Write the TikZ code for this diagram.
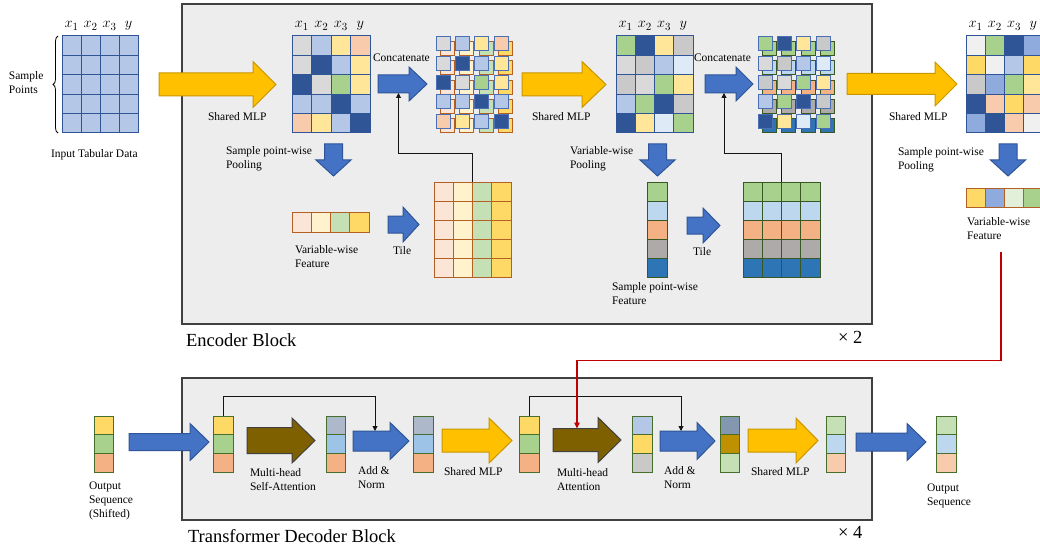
\documentclass[tikz,border=0pt]{standalone}
\usepackage{fontspec}
\setmainfont{Liberation Serif}
\usepackage{xcolor}
\usepackage{tikz}
\usetikzlibrary{arrows.meta,decorations.pathreplacing}

\newcommand{\cellgrid}[9]{%
  \node[inner sep=0pt,outer sep=0pt,minimum width=#4,minimum height=#5,anchor=north west] (#1) at (#2,#3) {};
  \foreach \rowcols [count=\i from 0] in {#9}{%
    \foreach \cellcol [count=\j from 0] in \rowcols{%
      \path[fill=\cellcol,draw=#8,line width=1pt] ({#2+\j*#4/#6},{#3+\i*#5/#7}) rectangle ++({#4/#6},{#5/#7});
    }%
  }%
}
\newcommand{\sqgrid}[6]{%
  \foreach \rowcols [count=\i from 0] in {#6}{%
    \foreach \cellcol [count=\j from 0] in \rowcols{%
      \path[fill=\cellcol,draw=#5,line width=1pt] ({#1+\j*#3},{#2+\i*#4}) rectangle ++(14,14);
    }%
  }%
}
\newcommand{\fatright}[8]{%
  \path[#8] (#2,{#4-#5}) -- ({#3-#7},{#4-#5}) -- ({#3-#7},{#4-#6}) -- (#3,#4) -- ({#3-#7},{#4+#6}) -- ({#3-#7},{#4+#5}) -- (#2,{#4+#5}) -- cycle;
  \node[inner sep=0pt,outer sep=0pt,minimum width={#3-#2},minimum height={2*#5}] (#1) at ({(#2+#3)/2},#4) {};
}
\newcommand{\fatdown}[7]{%
  \path[#7] ({#1-#4},#2) -- ({#1+#4},#2) -- ({#1+#4},{#3-#6}) -- ({#1+#5},{#3-#6}) -- (#1,#3) -- ({#1-#5},{#3-#6}) -- ({#1-#4},{#3-#6}) -- cycle;
}
\newcommand{\varnames}[3]{%
  \foreach \v [count=\k from 0] in {x_1,x_2,x_3,y}{%
    \node[varlbl] (#1\k) at ({#2+(\k+0.5)*#3},28) {$\v$};
  }%
}

\begin{document}
\begin{tikzpicture}[x=1pt,y=-1pt,
  lbl/.style={anchor=north west,inner sep=0pt,outer sep=0pt,align=left,font=\fontsize{11.5}{14}\selectfont},
  blocklbl/.style={anchor=base west,inner sep=0pt,outer sep=0pt,font=\fontsize{18.5}{22}\selectfont},
  varlbl/.style={anchor=base,inner sep=0pt,outer sep=0pt,font=\fontsize{15.5}{17}\selectfont},
  blockbox/.style={fill=boxFill,draw=boxEdge,line width=1.3pt,inner sep=0pt,outer sep=0pt,anchor=north west},
  mlp/.style={fill=arrYellow,draw=arrYellowEdge,line width=1pt,line join=miter},
  bluearr/.style={fill=arrBlue,draw=cNavy,line width=1pt,line join=miter},
  attn/.style={fill=arrBrown,draw=arrBrownEdge,line width=1pt,line join=miter},
  link/.style={draw=linkBlack,line width=0.9pt,-{Triangle[length=5pt,width=5pt]}},
  redlink/.style={draw=redLine,line width=1.6pt,-{Triangle[length=6pt,width=5.5pt]}}]
\definecolor{boxFill}{RGB}{237,237,237}
\definecolor{boxEdge}{RGB}{64,64,64}
\definecolor{cBlue}{RGB}{180,199,231}
\definecolor{cNavy}{RGB}{47,85,151}
\definecolor{cGrayL}{RGB}{217,217,217}
\definecolor{cGrayM}{RGB}{201,201,201}
\definecolor{cGrayV}{RGB}{240,240,240}
\definecolor{cYelL}{RGB}{255,230,153}
\definecolor{cYel}{RGB}{255,217,102}
\definecolor{cPeach}{RGB}{248,203,173}
\definecolor{cLeaf}{RGB}{169,209,142}
\definecolor{cBluePale}{RGB}{222,235,247}
\definecolor{cBlueMed}{RGB}{143,170,220}
\definecolor{cPeachL}{RGB}{251,229,214}
\definecolor{cCream}{RGB}{255,242,204}
\definecolor{cLeafL}{RGB}{197,224,180}
\definecolor{cLeafP}{RGB}{226,240,217}
\definecolor{cSky}{RGB}{189,215,238}
\definecolor{cOrange}{RGB}{244,177,131}
\definecolor{cGrayW}{RGB}{174,170,170}
\definecolor{cSteel}{RGB}{46,117,182}
\definecolor{cGrayBl}{RGB}{173,185,202}
\definecolor{cBlueL}{RGB}{157,195,230}
\definecolor{cSlate}{RGB}{132,151,176}
\definecolor{cGold}{RGB}{191,144,0}
\definecolor{brownEdge}{RGB}{180,95,35}
\definecolor{greenEdge}{RGB}{56,87,35}
\definecolor{vecEdge}{RGB}{70,110,45}
\definecolor{frontEdge}{RGB}{74,111,181}
\definecolor{arrYellow}{RGB}{255,192,0}
\definecolor{arrYellowEdge}{RGB}{200,150,0}
\definecolor{arrBlue}{RGB}{68,114,196}
\definecolor{arrBrown}{RGB}{127,96,0}
\definecolor{arrBrownEdge}{RGB}{64,64,64}
\definecolor{linkBlack}{RGB}{20,20,20}
\definecolor{redLine}{RGB}{192,0,0}
\path[use as bounding box] (0,0) rectangle (1040,548);
\clip (0,0) rectangle (1040,548);

\node[blockbox,minimum width=690,minimum height=320] (enc) at (182,4) {};
\node[blockbox,minimum width=690,minimum height=142] (dec) at (182,378) {};
\node[blocklbl] (encLbl) at (186,346) {Encoder Block};
\node[blocklbl] (encRep) at (838,343) {× 2};
\node[blocklbl] (decLbl) at (188,542) {Transformer Decoder Block};
\node[blocklbl] (decRep) at (838,538) {× 4};

\cellgrid{inTab}{62}{36}{76}{97}{4}{5}{cNavy}{{cBlue,cBlue,cBlue,cBlue},{cBlue,cBlue,cBlue,cBlue},{cBlue,cBlue,cBlue,cBlue},{cBlue,cBlue,cBlue,cBlue},{cBlue,cBlue,cBlue,cBlue}}
\varnames{inV}{62}{19}
\draw[decorate,decoration={brace,amplitude=5pt},line width=0.8pt] (58,133) -- (58,36);
\node[lbl] (spLbl) at (9,72) {Sample\\Points};
\node[lbl] (inLbl) at (51,150) {Input Tabular Data};

\fatright{mlpA}{159}{276}{84.5}{11.5}{23}{23}{mlp}
\node[lbl] (mlpALbl) at (208,113) {Shared MLP};
\cellgrid{hA}{292}{36}{78}{97}{4}{5}{cNavy}{{cGrayL,cBlue,cYelL,cPeach},{cGrayL,cNavy,cBlue,cYelL},{cNavy,cGrayL,cLeaf,cYelL},{cBlue,cBlue,cNavy,cBlue},{cPeach,cYelL,cBlue,cNavy}}
\varnames{hAV}{292}{19.5}
\fatdown{333.5}{144}{176}{9}{17.5}{16}{bluearr}
\node[lbl] (poolALbl) at (226,147) {Sample point-wise\\Pooling};
\cellgrid{vfA}{292}{212}{77}{20}{4}{1}{brownEdge}{{cPeachL,cCream,cLeafL,cYel}}
\node[lbl] (vfALbl) at (295,246) {Variable-wise\\Feature};
\fatright{tileArrA}{388}{419}{224.5}{8.5}{17.5}{16}{bluearr}
\node[lbl] (tileALbl) at (393,247) {Tile};
\cellgrid{tileA}{434}{182}{77}{95}{4}{5}{brownEdge}{{cPeachL,cCream,cLeafL,cYel},{cPeachL,cCream,cLeafL,cYel},{cPeachL,cCream,cLeafL,cYel},{cPeachL,cCream,cLeafL,cYel},{cPeachL,cCream,cLeafL,cYel}}
\fatright{catArrA}{378}{427}{84}{9}{17}{18}{bluearr}
\node[lbl] (catALbl) at (373,54) {Concatenate};
\sqgrid{440.5}{41.5}{19.4}{19.3}{brownEdge}{{cPeachL,cCream,cLeafL,cYel},{cPeachL,cCream,cLeafL,cYel},{cPeachL,cCream,cLeafL,cYel},{cPeachL,cCream,cLeafL,cYel},{cPeachL,cCream,cLeafL,cYel}}
\sqgrid{436}{37}{19.4}{19.3}{frontEdge}{{cGrayL,cBlue,cYelL,cPeach},{cGrayL,cNavy,cBlue,cYelL},{cNavy,cGrayL,cLeaf,cYelL},{cBlue,cBlue,cNavy,cBlue},{cPeach,cYelL,cBlue,cNavy}}
\draw[link] (tileA.north) -- ++(0,-29) -| ([xshift=-4pt]catArrA.south);

\fatright{mlpB}{522}{606}{84.5}{11.5}{23}{24}{mlp}
\node[lbl] (mlpBLbl) at (532,113) {Shared MLP};
\cellgrid{hB}{616}{36}{77}{97}{4}{5}{cNavy}{{cLeaf,cNavy,cYelL,cGrayM},{cGrayL,cGrayM,cBlue,cBluePale},{cGrayM,cGrayL,cLeaf,cYelL},{cBlue,cLeaf,cNavy,cGrayM},{cNavy,cYelL,cBluePale,cLeaf}}
\varnames{hBV}{616}{19.25}
\fatdown{657.5}{144}{176}{9}{17.5}{16}{bluearr}
\node[lbl] (poolBLbl) at (570,147) {Variable-wise\\Pooling};
\cellgrid{spf}{647}{182}{20}{95}{1}{5}{greenEdge}{{cLeaf},{cSky},{cOrange},{cGrayW},{cSteel}}
\node[lbl] (spfLbl) at (612,283) {Sample point-wise\\Feature};
\fatright{tileArrB}{687}{720}{225.5}{8.5}{17.5}{17}{bluearr}
\node[lbl] (tileBLbl) at (693,248) {Tile};
\cellgrid{tileB}{743}{182}{77}{95}{4}{5}{greenEdge}{{cLeaf,cLeaf,cLeaf,cLeaf},{cSky,cSky,cSky,cSky},{cOrange,cOrange,cOrange,cOrange},{cGrayW,cGrayW,cGrayW,cGrayW},{cSteel,cSteel,cSteel,cSteel}}
\fatright{catArrB}{705}{753}{84}{9}{17}{17}{bluearr}
\node[lbl] (catBLbl) at (694,54) {Concatenate};
\sqgrid{762.5}{41.5}{19.4}{19.3}{greenEdge}{{cLeaf,cLeaf,cLeaf,cLeaf},{cSky,cSky,cSky,cSky},{cOrange,cOrange,cOrange,cOrange},{cGrayW,cGrayW,cGrayW,cGrayW},{cSteel,cSteel,cSteel,cSteel}}
\sqgrid{758}{37}{19.4}{19.3}{frontEdge}{{cLeaf,cNavy,cYelL,cGrayM},{cGrayL,cGrayM,cBlue,cBluePale},{cGrayM,cGrayL,cLeaf,cYelL},{cBlue,cLeaf,cNavy,cGrayM},{cNavy,cYelL,cBluePale,cLeaf}}
\draw[link] (tileB.north) -- ++(0,-29) -| ([xshift=-5pt]catArrB.south);

\fatright{mlpC}{847}{957}{84}{10.5}{22}{22}{mlp}
\node[lbl] (mlpCLbl) at (889,113) {Shared MLP};
\cellgrid{hC}{966}{36}{77}{97}{4}{5}{cNavy}{{cGrayV,cLeaf,cNavy,cBlueMed},{cYel,cGrayV,cBlue,cYel},{cGrayM,cBlueMed,cLeaf,cYelL},{cNavy,cPeach,cYel,cPeach},{cBlueMed,cNavy,cPeach,cGrayV}}
\varnames{hCV}{966}{19.25}
\fatdown{1008}{144}{176}{9}{17.5}{16}{bluearr}
\node[lbl] (poolCLbl) at (898,148) {Sample point-wise\\Pooling};
\cellgrid{vfC}{966}{188}{77}{19.5}{4}{1}{brownEdge}{{cYel,cBlueMed,cLeafP,cLeaf}}
\node[lbl] (vfCLbl) at (967,218) {Variable-wise\\Feature};

\cellgrid{seqIn}{94}{416}{19.5}{56}{1}{3}{vecEdge}{{cYel},{cLeaf},{cOrange}}
\node[lbl] (seqInLbl) at (89,482) {Output\\Sequence\\(Shifted)};
\fatright{inArr}{129}{209}{442}{8.5}{18.5}{19}{bluearr}
\cellgrid{dA}{213}{416}{20}{56}{1}{3}{vecEdge}{{cYel},{cLeaf},{cOrange}}
\fatright{selfAttn}{247}{315}{440.5}{13}{22.5}{23}{attn}
\node[lbl] (selfAttnLbl) at (250,469) {Multi-head\\Self-Attention};
\cellgrid{dB}{326}{416}{19.5}{56}{1}{3}{vecEdge}{{cGrayBl},{cBlueL},{cOrange}}
\fatright{addA}{353}{409}{441}{10}{18.5}{19}{bluearr}
\node[lbl] (addALbl) at (358,467) {Add \&\\Norm};
\cellgrid{dC}{413}{416}{20}{56}{1}{3}{vecEdge}{{cGrayBl},{cBlueL},{cOrange}}
\fatright{mlpD}{442}{512}{440.5}{11.5}{22.5}{23}{mlp}
\node[lbl] (mlpDLbl) at (444,468) {Shared MLP};
\cellgrid{dD}{519}{416}{20}{56}{1}{3}{vecEdge}{{cYel},{cLeaf},{cOrange}}
\fatright{crossAttn}{553}{621}{440}{11.5}{22.5}{23}{attn}
\node[lbl] (crossAttnLbl) at (557,469) {Multi-head\\Attention};
\cellgrid{dE}{632}{416}{20}{56}{1}{3}{vecEdge}{{cBlue},{cYel},{cGrayM}}
\fatright{addB}{660}{715}{441}{10}{18.5}{18}{bluearr}
\node[lbl] (addBLbl) at (664,467) {Add \&\\Norm};
\cellgrid{dF}{720}{416}{19.5}{56}{1}{3}{vecEdge}{{cSlate},{cGold},{cLeafL}}
\fatright{mlpE}{748}{818}{440.5}{11.5}{22.5}{22}{mlp}
\node[lbl] (mlpELbl) at (751,468) {Shared MLP};
\cellgrid{dG}{826}{416}{19.5}{56}{1}{3}{vecEdge}{{cLeafL},{cSky},{cPeach}}
\fatright{outArr}{856}{926}{442}{9}{18.5}{19}{bluearr}
\cellgrid{seqOut}{936}{416}{20}{56}{1}{3}{vecEdge}{{cLeafL},{cSky},{cPeach}}
\node[lbl] (seqOutLbl) at (927,484) {Output\\Sequence};

\draw[link] (dA.north) -- ++(0,-20) -| ([xshift=-6pt]addA.north);
\draw[link] (dD.north) -- ++(0,-20) -| ([xshift=-6.5pt]addB.north);
\coordinate (redStart) at ([xshift=-3.5pt,yshift=-44pt]vfC.south);
\draw[redlink] (redStart) -- ++(0,109) -| ([xshift=-10pt]crossAttn.north);
\end{tikzpicture}
\end{document}
